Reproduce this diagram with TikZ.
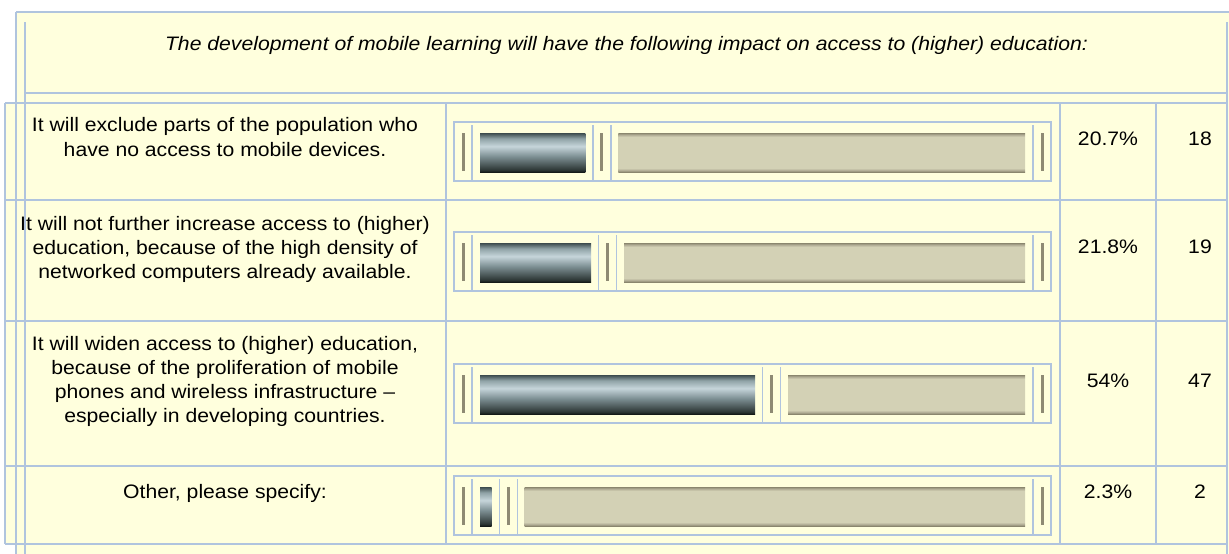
\documentclass[tikz,border=0pt]{standalone}
\usepackage{fontspec}
\setmainfont{Liberation Sans}[FakeStretch=1.086]
\definecolor{bgy}{HTML}{FFFFDD}
\definecolor{grid}{HTML}{B0C4DE}
\definecolor{markc}{HTML}{8E8A74}
\definecolor{dbTop}{HTML}{3C4B4D}
\definecolor{dbM2}{HTML}{8FA2A6}
\definecolor{dbLight}{HTML}{C6D5DA}
\definecolor{dbMid}{HTML}{7D8F93}
\definecolor{dbB2}{HTML}{2E3836}
\definecolor{dbBot}{HTML}{141A18}
\definecolor{beEdge}{HTML}{8A866E}
\definecolor{beMid}{HTML}{AEAA92}
\definecolor{beFill}{HTML}{D3D1B5}
\pgfdeclareverticalshading{darkbar}{100bp}{color(0bp)=(dbBot); color(25bp)=(dbBot); color(28bp)=(dbB2); color(45bp)=(dbMid); color(58bp)=(dbLight); color(68bp)=(dbM2); color(75bp)=(dbTop); color(100bp)=(dbTop)}
\pgfdeclareverticalshading{beigebar}{100bp}{color(0bp)=(beEdge); color(25bp)=(beEdge); color(27bp)=(beMid); color(30bp)=(beFill); color(70bp)=(beFill); color(73bp)=(beMid); color(75bp)=(beEdge); color(100bp)=(beEdge)}
\tikzset{
  gridline/.style={draw=grid, line width=1.3pt},
  cellline/.style={draw=grid, line width=1.2pt},
  markbar/.style={fill=markc},
  txt/.style={inner sep=0pt, align=center, anchor=north, font=\fontsize{19.5}{24}\selectfont},
  ttl/.style={txt, font=\fontsize{19.5}{24}\selectfont\itshape},
}
\newcommand{\mybarrow}[2]{%
  \pgfmathsetmacro\bT{#1}%
  \pgfmathsetmacro\bB{#1+59}%
  \pgfmathsetmacro\yT{#1+11}%
  \pgfmathsetmacro\yB{#1+50}%
  \pgfmathsetmacro\dE{480+#2}%
  \pgfmathsetmacro\dvA{\dE+7.5}%
  \pgfmathsetmacro\mkB{\dvA+9}%
  \pgfmathsetmacro\dvB{\dvA+18}%
  \pgfmathsetmacro\bS{\dvB+7.5}%
  \draw[cellline] (454,\bT) rectangle (1051,\bB);
  \draw[cellline] (472,\bT+3) -- (472,\bB);
  \draw[cellline] (\dvA,\bT+3) -- (\dvA,\bB);
  \draw[cellline] (\dvB,\bT+3) -- (\dvB,\bB);
  \draw[cellline] (1033,\bT+3) -- (1033,\bB);
  \fill[markbar] (461.5,\yT) rectangle (464.5,\yB-1.5);
  \fill[markbar] (\mkB-1.5,\yT) rectangle (\mkB+1.5,\yB-1.5);
  \fill[markbar] (1040.5,\yT) rectangle (1043.5,\yB-1.5);
  \shade[shading=darkbar] (480,\yT) rectangle (\dE,\yB);
  \shade[shading=beigebar] (\bS,\yT) rectangle (1025,\yB);
}
\begin{document}
\begin{tikzpicture}[x=1pt,y=-1pt]
  \path[use as bounding box, fill=white] (0,0) rectangle (1229,554);
  % yellow background
  \fill[bgy] (16,12) -- (1229,12) -- (1229,554) -- (16,554) -- (16,544) -- (5,544) -- (5,103) -- (16,103) -- cycle;
  % table grid
  \draw[gridline] (16,12) -- (1229,12);
  \draw[gridline] (16,12) -- (16,554);
  \draw[gridline] (25,22) -- (25,554);
  \draw[gridline] (1227,22) -- (1227,554);
  \draw[gridline] (25,93) -- (1227,93);
  \draw[gridline] (5,103) -- (1227,103);
  \draw[gridline] (5,103) -- (5,544);
  \foreach \yy in {200,321,466,544} {\draw[gridline] (5,\yy) -- (1227,\yy);}
  \foreach \xx in {446,1060,1156} {\draw[gridline] (\xx,103) -- (\xx,544);}
  % bars
  \mybarrow{122}{105.4}
  \mybarrow{232}{111}
  \mybarrow{364}{275}
  \mybarrow{476}{11.7}
  % title
  \node[ttl] (title) at (626.5,33.2) {\strut The development of mobile learning will have the following impact on access to (higher) education:};
  % row texts
  \node[txt] (t1) at (225,114.7) {\strut It will exclude parts of the population who\\[1pt] have no access to mobile devices.};
  \node[txt] (t2) at (225,213.2) {\strut It will not further increase access to (higher)\\ education, because of the high density of\\ networked computers already available.};
  \node[txt] (t3) at (225,333.2) {\strut It will widen access to (higher) education,\\ because of the proliferation of mobile\\ phones and wireless infrastructure –\\ especially in developing countries.};
  \node[txt] (t4) at (225,481.2) {\strut Other, please specify:};
  % percentages
  \node[txt] (p1) at (1108,128.2) {\strut 20.7\%};
  \node[txt] (p2) at (1108,236.2) {\strut 21.8\%};
  \node[txt] (p3) at (1108,370.2) {\strut 54\%};
  \node[txt] (p4) at (1108,481.2) {\strut 2.3\%};
  % counts
  \node[txt] (n1) at (1200,128.2) {\strut 18};
  \node[txt] (n2) at (1200,236.2) {\strut 19};
  \node[txt] (n3) at (1200,370.2) {\strut 47};
  \node[txt] (n4) at (1200,481.2) {\strut 2};
\end{tikzpicture}
\end{document}
